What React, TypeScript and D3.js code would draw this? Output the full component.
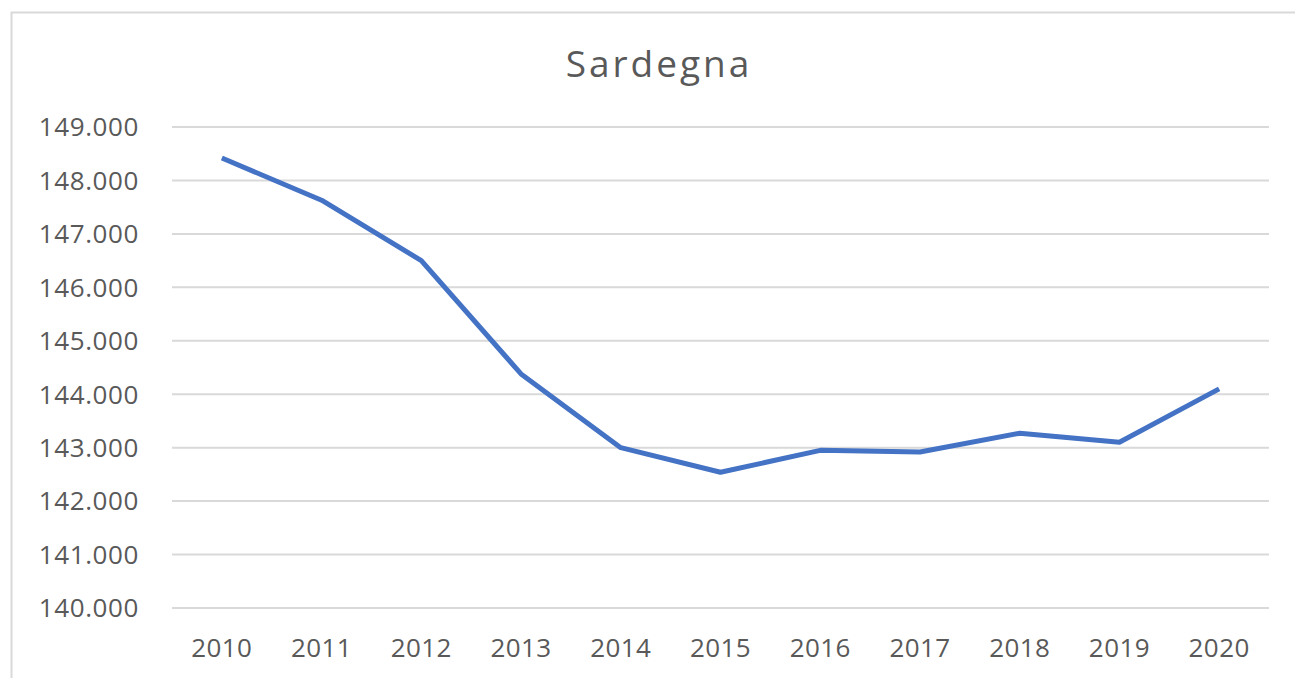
import React from 'react';
import * as d3 from 'd3';

const years = ['2010', '2011', '2012', '2013', '2014', '2015', '2016', '2017', '2018', '2019', '2020'];
const values = [148.42, 147.63, 146.5, 144.38, 143.0, 142.54, 142.95, 142.92, 143.27, 143.1, 144.1];
const yTicks = [140, 141, 142, 143, 144, 145, 146, 147, 148, 149];

const W = 1295;
const H = 678;
const margin = { top: 127, right: 26, bottom: 70, left: 172 };

const App = () => {
  const x = d3.scalePoint<string>()
    .domain(years)
    .range([margin.left, W - margin.right])
    .padding(0.5);

  const y = d3.scaleLinear()
    .domain([140, 149])
    .range([H - margin.bottom, margin.top]);

  const line = d3.line<number>()
    .x((d, i) => x(years[i]) as number)
    .y(d => y(d));

  const fmt = (v: number) => v.toFixed(3);
  const font = '"Open Sans", "Noto Sans", sans-serif';

  return (
    <svg width={W} height={H} style={{ position: 'absolute', left: 0, top: 0, background: '#fff' }}>
      {/* bordo del grafico */}
      <rect x={11.5} y={12.5} width={W + 10} height={H + 10} fill="none" stroke="#d9d9d9" strokeWidth={2} />

      <text x={659} y={77} textAnchor="middle" fontFamily={font} fontSize={37} letterSpacing={3} fill="#595959">Sardegna</text>

      {yTicks.map(t => (
        <g key={t}>
          <line x1={margin.left} x2={W - margin.right} y1={y(t)} y2={y(t)} stroke="#d9d9d9" strokeWidth={2} />
          <text x={139} y={y(t)} dy="0.36em" textAnchor="end" fontFamily={font} fontSize={26} letterSpacing={0.6} fill="#595959">
            {fmt(t)}
          </text>
        </g>
      ))}

      {years.map(yr => (
        <text key={yr} x={x(yr)} y={657} textAnchor="middle" fontFamily={font} fontSize={26} letterSpacing={0.4} fill="#595959">
          {yr}
        </text>
      ))}

      <path d={line(values) || ''} fill="none" stroke="#4472c4" strokeWidth={5} strokeLinejoin="round" />
    </svg>
  );
};

export default App;
